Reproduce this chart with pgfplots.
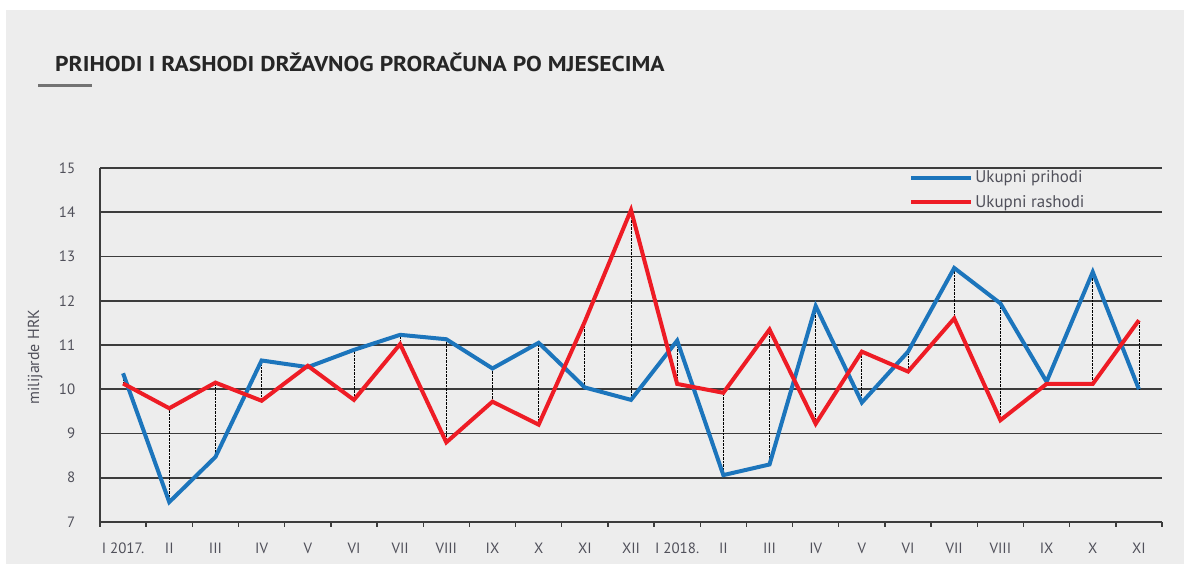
\documentclass[border=0pt]{standalone}
\usepackage{pgfplots}
\pgfplotsset{compat=1.18}
\usepackage{pgfplotstable}
\usepackage{fontspec}
\setmainfont{PT Sans}
\newfontfamily\titlefont[FakeStretch=1.1]{PT Sans}
\definecolor{bg}{HTML}{EDEDED}
\definecolor{cblue}{HTML}{1C75BC}
\definecolor{cred}{HTML}{EE1C25}
\definecolor{gridc}{HTML}{3C3C3C}
\definecolor{txt}{HTML}{50505A}
\pgfplotstableread{
x p r
0 10.36 10.13
1 7.45 9.57
2 8.47 10.15
3 10.65 9.74
4 10.50 10.53
5 10.89 9.76
6 11.23 11.02
7 11.13 8.80
8 10.47 9.72
9 11.05 9.20
10 10.04 11.53
11 9.76 14.05
12 11.10 10.12
13 8.06 9.92
14 8.30 11.35
15 11.88 9.22
16 9.70 10.85
17 10.85 10.40
18 12.74 11.60
19 11.94 9.30
20 10.17 10.12
21 12.65 10.12
22 10.00 11.56
}\data
\begin{document}
\begin{tikzpicture}
\fill[white] (0,0) rectangle (1184bp,564bp);
\fill[bg] (6bp,0) rectangle (1184bp,554bp);
\node[anchor=west, text=black!85, font=\titlefont\fontsize{21.5}{24}\selectfont\bfseries, inner sep=0] at (55bp,502bp) {PRIHODI I RASHODI DRŽAVNOG PRORAČUNA PO MJESECIMA};
\fill[black!55] (38bp,476.5bp) rectangle (92bp,479.5bp);
\begin{axis}[
  at={(100bp,42bp)}, anchor=south west,
  width=1062bp, height=354bp, scale only axis,
  xmin=-0.5, xmax=22.5, ymin=7, ymax=15,
  axis x line*=bottom, axis y line*=left,
  axis line style={gridc, line width=1.8bp},
  ytick={7,...,15},
  ymajorgrids, major grid style={gridc, line width=1.8bp},
  ytick style={draw=none},
  xtick={0,...,22},
  xticklabels={I 2017.,II,III,IV,V,VI,VII,VIII,IX,X,XI,XII,I 2018.,II,III,IV,V,VI,VII,VIII,IX,X,XI},
  major x tick style={draw=none},
  minor xtick={-0.5,0.5,...,22.5},
  minor tick length=5bp,
  minor x tick style={gridc, line width=1.4bp},
  tick align=outside,
  tick label style={font=\fontsize{15}{17}\selectfont, text=txt},
  xticklabel style={yshift=-13bp},
  yticklabel style={xshift=-17bp},
  /pgf/number format/assume math mode=true,
  ylabel={milijarde HRK},
  ylabel style={font=\fontsize{16}{18}\selectfont, text=txt, at={(axis description cs:-0.061,0.466)}, anchor=center},
  legend style={at={(0.762,0.998)}, anchor=north west, draw=none, fill=none, font=\fontsize{17}{19}\selectfont, text=txt, row sep=7bp, inner sep=0pt},
  legend cell align=left,
  legend image code/.code={\draw[#1, line width=4bp] (0bp,0bp) -- (60bp,0bp);},
]
\addplot[draw=none, mark=none, forget plot,
  error bars/.cd, y dir=plus, y explicit,
  error bar style={draw=black, densely dotted, line width=0.8bp}, error mark=none]
  table[x=x, y expr={min(\thisrow{p},\thisrow{r})}, y error expr={abs(\thisrow{p}-\thisrow{r})}] {\data};
\addplot[cblue, line width=4bp, mark=none] table[x=x, y=p] {\data};
\addlegendentry{Ukupni prihodi}
\addplot[cred, line width=4bp, mark=none] table[x=x, y=r] {\data};
\addlegendentry{Ukupni rashodi}
\end{axis}
\end{tikzpicture}
\end{document}
